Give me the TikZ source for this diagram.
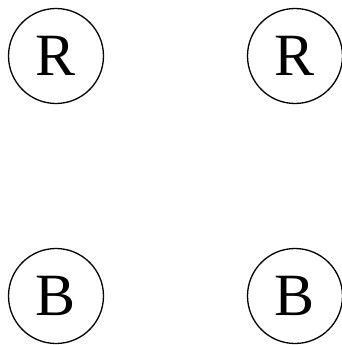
\documentclass[tikz,border=0pt]{standalone}
\usepackage{fontspec}
\setmainfont{Liberation Serif}
\begin{document}
\begin{tikzpicture}[x=1pt, y=-1pt,
    every node/.style={font=\fontsize{60}{64}\selectfont},
    ball/.style={draw, circle, line width=1.3pt, minimum size=95pt, inner sep=0pt}]
  \useasboundingbox (0,0) rectangle (341,345);
  \node[ball] (r1) at (56,56) {R};
  \node[ball] (r2) at (295,56) {R};
  \node[ball] (b1) at (56,296) {B};
  \node[ball] (b2) at (295,296) {B};
\end{tikzpicture}
\end{document}
